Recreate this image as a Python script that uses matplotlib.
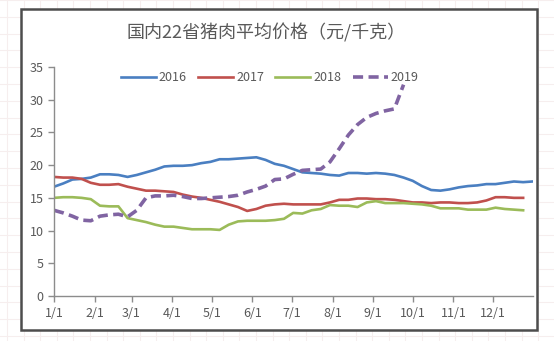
import numpy as np
import matplotlib.pyplot as plt
from matplotlib.patches import Rectangle

plt.rcParams['font.family'] = ['Noto Sans CJK SC', 'DejaVu Sans']

# 每周价格（元/千克），从1月1日起每7天一个点
price_2016 = [16.7, 17.2, 17.8, 17.9, 18.1, 18.6, 18.6, 18.5, 18.2, 18.5,
              18.9, 19.3, 19.8, 19.9, 19.9, 20.0, 20.3, 20.5, 20.9, 20.9,
              21.0, 21.1, 21.2, 20.8, 20.2, 19.9, 19.4, 18.9, 18.8, 18.7,
              18.5, 18.4, 18.8, 18.8, 18.7, 18.8, 18.7, 18.5, 18.1, 17.6,
              16.8, 16.2, 16.1, 16.3, 16.6, 16.8, 16.9, 17.1, 17.1, 17.3,
              17.5, 17.4, 17.5]
price_2017 = [18.2, 18.1, 18.1, 17.9, 17.3, 17.0, 17.0, 17.1, 16.7, 16.4,
              16.1, 16.1, 16.0, 15.9, 15.5, 15.2, 15.0, 14.7, 14.4, 14.0,
              13.6, 13.0, 13.3, 13.8, 14.0, 14.1, 14.0, 14.0, 14.0, 14.0,
              14.3, 14.7, 14.7, 14.9, 14.9, 14.8, 14.8, 14.7, 14.5, 14.3,
              14.3, 14.2, 14.3, 14.3, 14.2, 14.2, 14.3, 14.6, 15.1, 15.1,
              15.0, 15.0]
price_2018 = [15.0, 15.1, 15.1, 15.0, 14.8, 13.8, 13.7, 13.7, 11.9, 11.6,
              11.3, 10.9, 10.6, 10.6, 10.4, 10.2, 10.2, 10.2, 10.1, 10.9,
              11.4, 11.5, 11.5, 11.5, 11.6, 11.8, 12.7, 12.6, 13.1, 13.3,
              13.9, 13.8, 13.8, 13.6, 14.3, 14.5, 14.2, 14.2, 14.2, 14.1,
              14.0, 13.8, 13.4, 13.4, 13.4, 13.2, 13.2, 13.2, 13.5, 13.3,
              13.2, 13.1]
price_2019 = [13.1, 12.7, 12.2, 11.6, 11.5, 12.2, 12.4, 12.5, 12.1, 13.1,
              15.0, 15.3, 15.3, 15.4, 15.2, 14.9, 14.9, 15.0, 15.1, 15.2,
              15.4, 15.9, 16.3, 16.8, 17.8, 17.9, 18.6, 19.2, 19.3, 19.4,
              20.5, 22.5, 24.6, 26.2, 27.3, 27.9, 28.3, 28.6, 32.3]

month_labels = ['1/1', '2/1', '3/1', '4/1', '5/1', '6/1',
                '7/1', '8/1', '9/1', '10/1', '11/1', '12/1']
month_days = [0, 31, 59, 90, 120, 151, 181, 212, 243, 273, 304, 334]

series = [
    ('2016', price_2016, '#4a7fc1', '-'),
    ('2017', price_2017, '#c0504d', '-'),
    ('2018', price_2018, '#9bbb59', '-'),
    ('2019', price_2019, '#8064a2', '--'),
]

fig = plt.figure(figsize=(5.54, 3.41), dpi=100)

# 底层的表格网格线
bg = fig.add_axes([0, 0, 1, 1], zorder=-2)
bg.set_xlim(0, 554)
bg.set_ylim(341, 0)
for gx in np.arange(7, 554, 16.6):
    bg.axvline(gx, color='#f6eeee', lw=0.8)
for gy in np.arange(0, 341, 16.8):
    bg.axhline(gy, color='#f6eeee', lw=0.8)
bg.axis('off')

# 图表区域的白底和边框
fig.patches.append(Rectangle((21 / 554, 1 - 330 / 341), 516 / 554, 321 / 341,
                             transform=fig.transFigure, facecolor='white',
                             edgecolor='#4d4d4d', lw=1.8, zorder=-1))

ax = fig.add_axes([54 / 554, 1 - 296 / 341, 479 / 554, 229 / 341])
ax.set_facecolor('none')

for name, values, color, ls in series:
    x = np.arange(len(values)) * 7
    if ls == '--':
        ax.plot(x, values, color=color, lw=2.6, ls=ls, dashes=(2.8, 1.5),
                label=name)
    else:
        ax.plot(x, values, color=color, lw=1.9, label=name)

ax.set_xlim(0, 364.5)
ax.set_ylim(0, 35)
ax.set_yticks(range(0, 36, 5))
ax.set_xticks(month_days)
ax.set_xticklabels(month_labels)

for side in ['top', 'right']:
    ax.spines[side].set_visible(False)
for side in ['left', 'bottom']:
    ax.spines[side].set_color('#8c8c8c')
    ax.spines[side].set_linewidth(1.0)
ax.tick_params(colors='#8c8c8c', labelcolor='#595959', labelsize=9,
               length=4, width=1.0)
ax.tick_params(axis='x', pad=4)

ax.legend(loc='upper center', bbox_to_anchor=(0.45, 1.03), ncol=4,
          frameon=False, fontsize=9, labelcolor='#595959',
          handlelength=2.8, handletextpad=0.25, columnspacing=0.9)

fig.text(0.48, 1 - 33 / 341, '国内22省猪肉平均价格（元/千克）', ha='center',
         va='center', fontsize=13, color='#595959')

fig.savefig('out.png', dpi=100)
